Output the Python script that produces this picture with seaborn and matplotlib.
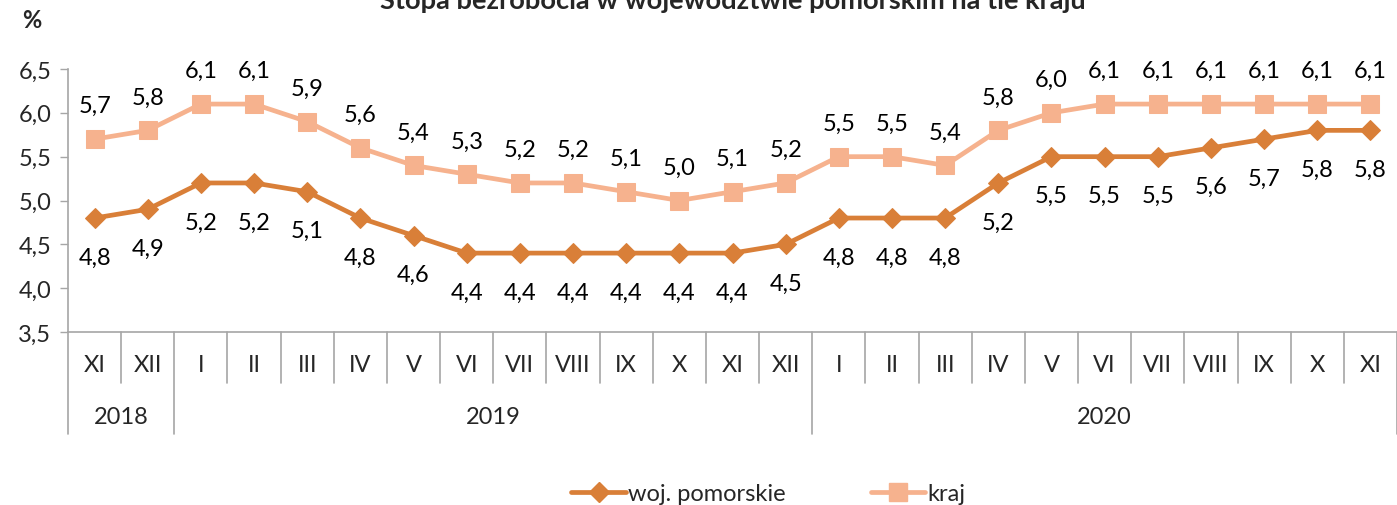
import matplotlib
matplotlib.use("Agg")
import matplotlib.pyplot as plt
import matplotlib.transforms as mtransforms
from matplotlib.lines import Line2D
import seaborn as sns
import pandas as pd
import numpy as np

months = ["XI", "XII", "I", "II", "III", "IV", "V", "VI", "VII", "VIII", "IX", "X", "XI", "XII",
          "I", "II", "III", "IV", "V", "VI", "VII", "VIII", "IX", "X", "XI"]
years = ["2018", "2019", "2020"]
year_counts = [2, 12, 11]
pomorskie = [4.8, 4.9, 5.2, 5.2, 5.1, 4.8, 4.6, 4.4, 4.4, 4.4, 4.4, 4.4, 4.4, 4.5,
             4.8, 4.8, 4.8, 5.2, 5.5, 5.5, 5.5, 5.6, 5.7, 5.8, 5.8]
kraj = [5.7, 5.8, 6.1, 6.1, 5.9, 5.6, 5.4, 5.3, 5.2, 5.2, 5.1, 5.0, 5.1, 5.2,
        5.5, 5.5, 5.4, 5.8, 6.0, 6.1, 6.1, 6.1, 6.1, 6.1, 6.1]
series_names = ["woj. pomorskie", "kraj"]
yticks = [3.5, 4.0, 4.5, 5.0, 5.5, 6.0, 6.5]
title = "Stopa bezrobocia w województwie pomorskim na tle kraju"

sns.set_style("white")
plt.rcParams["font.family"] = ["Lato", "DejaVu Sans"]

c_pom = "#D97F38"
c_kraj = "#F6B28E"
grey = "#A6A6A6"
fs = 17

fig = plt.figure(figsize=(13.97, 5.06), dpi=100)
ax = fig.add_axes([68 / 1397, 1 - 333 / 506, 1 - 68 / 1397, (333 - 70) / 506])

x = np.arange(len(months))
df = pd.DataFrame({"x": np.concatenate([x, x]),
                   "val": pomorskie + kraj,
                   "series": [series_names[0]] * len(x) + [series_names[1]] * len(x)})

lw = 3.4
ms_sq = 13
ms_d = 10.5
sns.lineplot(data=df[df.series == series_names[1]], x="x", y="val", ax=ax, color=c_kraj,
             marker="s", markersize=ms_sq, markeredgecolor=c_kraj, linewidth=lw, legend=False)
sns.lineplot(data=df[df.series == series_names[0]], x="x", y="val", ax=ax, color=c_pom,
             marker="D", markersize=ms_d, markeredgecolor=c_pom, linewidth=lw, legend=False)

def fmt(v):
    return f"{v:.1f}".replace(".", ",")

for xi, v in zip(x, kraj):
    ax.annotate(fmt(v), (xi, v), xytext=(0, 24), textcoords="offset points",
                ha="center", va="center", fontsize=fs, color="black")
for xi, v in zip(x, pomorskie):
    ax.annotate(fmt(v), (xi, v), xytext=(0, -28), textcoords="offset points",
                ha="center", va="center", fontsize=fs, color="black")

ax.set_xlim(-0.5, len(months) - 0.5)
ax.set_ylim(3.5, 6.5)
ax.set_yticks(yticks)
ax.set_yticklabels([fmt(v) for v in yticks], fontsize=fs)
ax.set_xticks([])
ax.set_xlabel("")
ax.set_ylabel("")
ax.tick_params(axis="y", direction="out", length=6, width=1, color=grey, pad=6, left=True)
for s in ["top", "right"]:
    ax.spines[s].set_visible(False)
for s in ["left", "bottom"]:
    ax.spines[s].set_color(grey)
    ax.spines[s].set_linewidth(1.2)

axh = (333 - 70)
trans = mtransforms.blended_transform_factory(ax.transData, ax.transAxes)
for i, m in enumerate(months):
    ax.text(i, -33 / axh, m, transform=trans, ha="center", va="center", fontsize=fs)
bounds = np.cumsum([0] + year_counts)
for i in range(len(months) + 1):
    depth = -102 / axh if i in bounds else -51 / axh
    ax.add_line(Line2D([i - 0.5, i - 0.5], [0, depth], transform=trans, color=grey,
                       linewidth=1.2, clip_on=False))
for y, a, b in zip(years, bounds[:-1], bounds[1:]):
    ax.text((a + b - 1) / 2, -85 / axh, y, transform=trans, ha="center", va="center", fontsize=fs)

fig.text(32 / 1397, 1 - 21 / 506, "%", ha="center", va="center", fontsize=fs, fontweight="bold")
fig.text(733 / 1397, 1 - 9 / 506, title, ha="center", va="baseline", fontsize=19.6, fontweight="bold")

handles = [Line2D([], [], color=c_pom, marker="D", markersize=ms_d, linewidth=lw),
           Line2D([], [], color=c_kraj, marker="s", markersize=ms_sq, linewidth=lw)]
fig.legend(handles, series_names, loc="center", bbox_to_anchor=(0.55, 1 - 495 / 506), ncol=2,
           frameon=False, fontsize=fs, handlelength=2.3, handletextpad=0.1, columnspacing=3.6)

fig.savefig("out.png", dpi=100)
